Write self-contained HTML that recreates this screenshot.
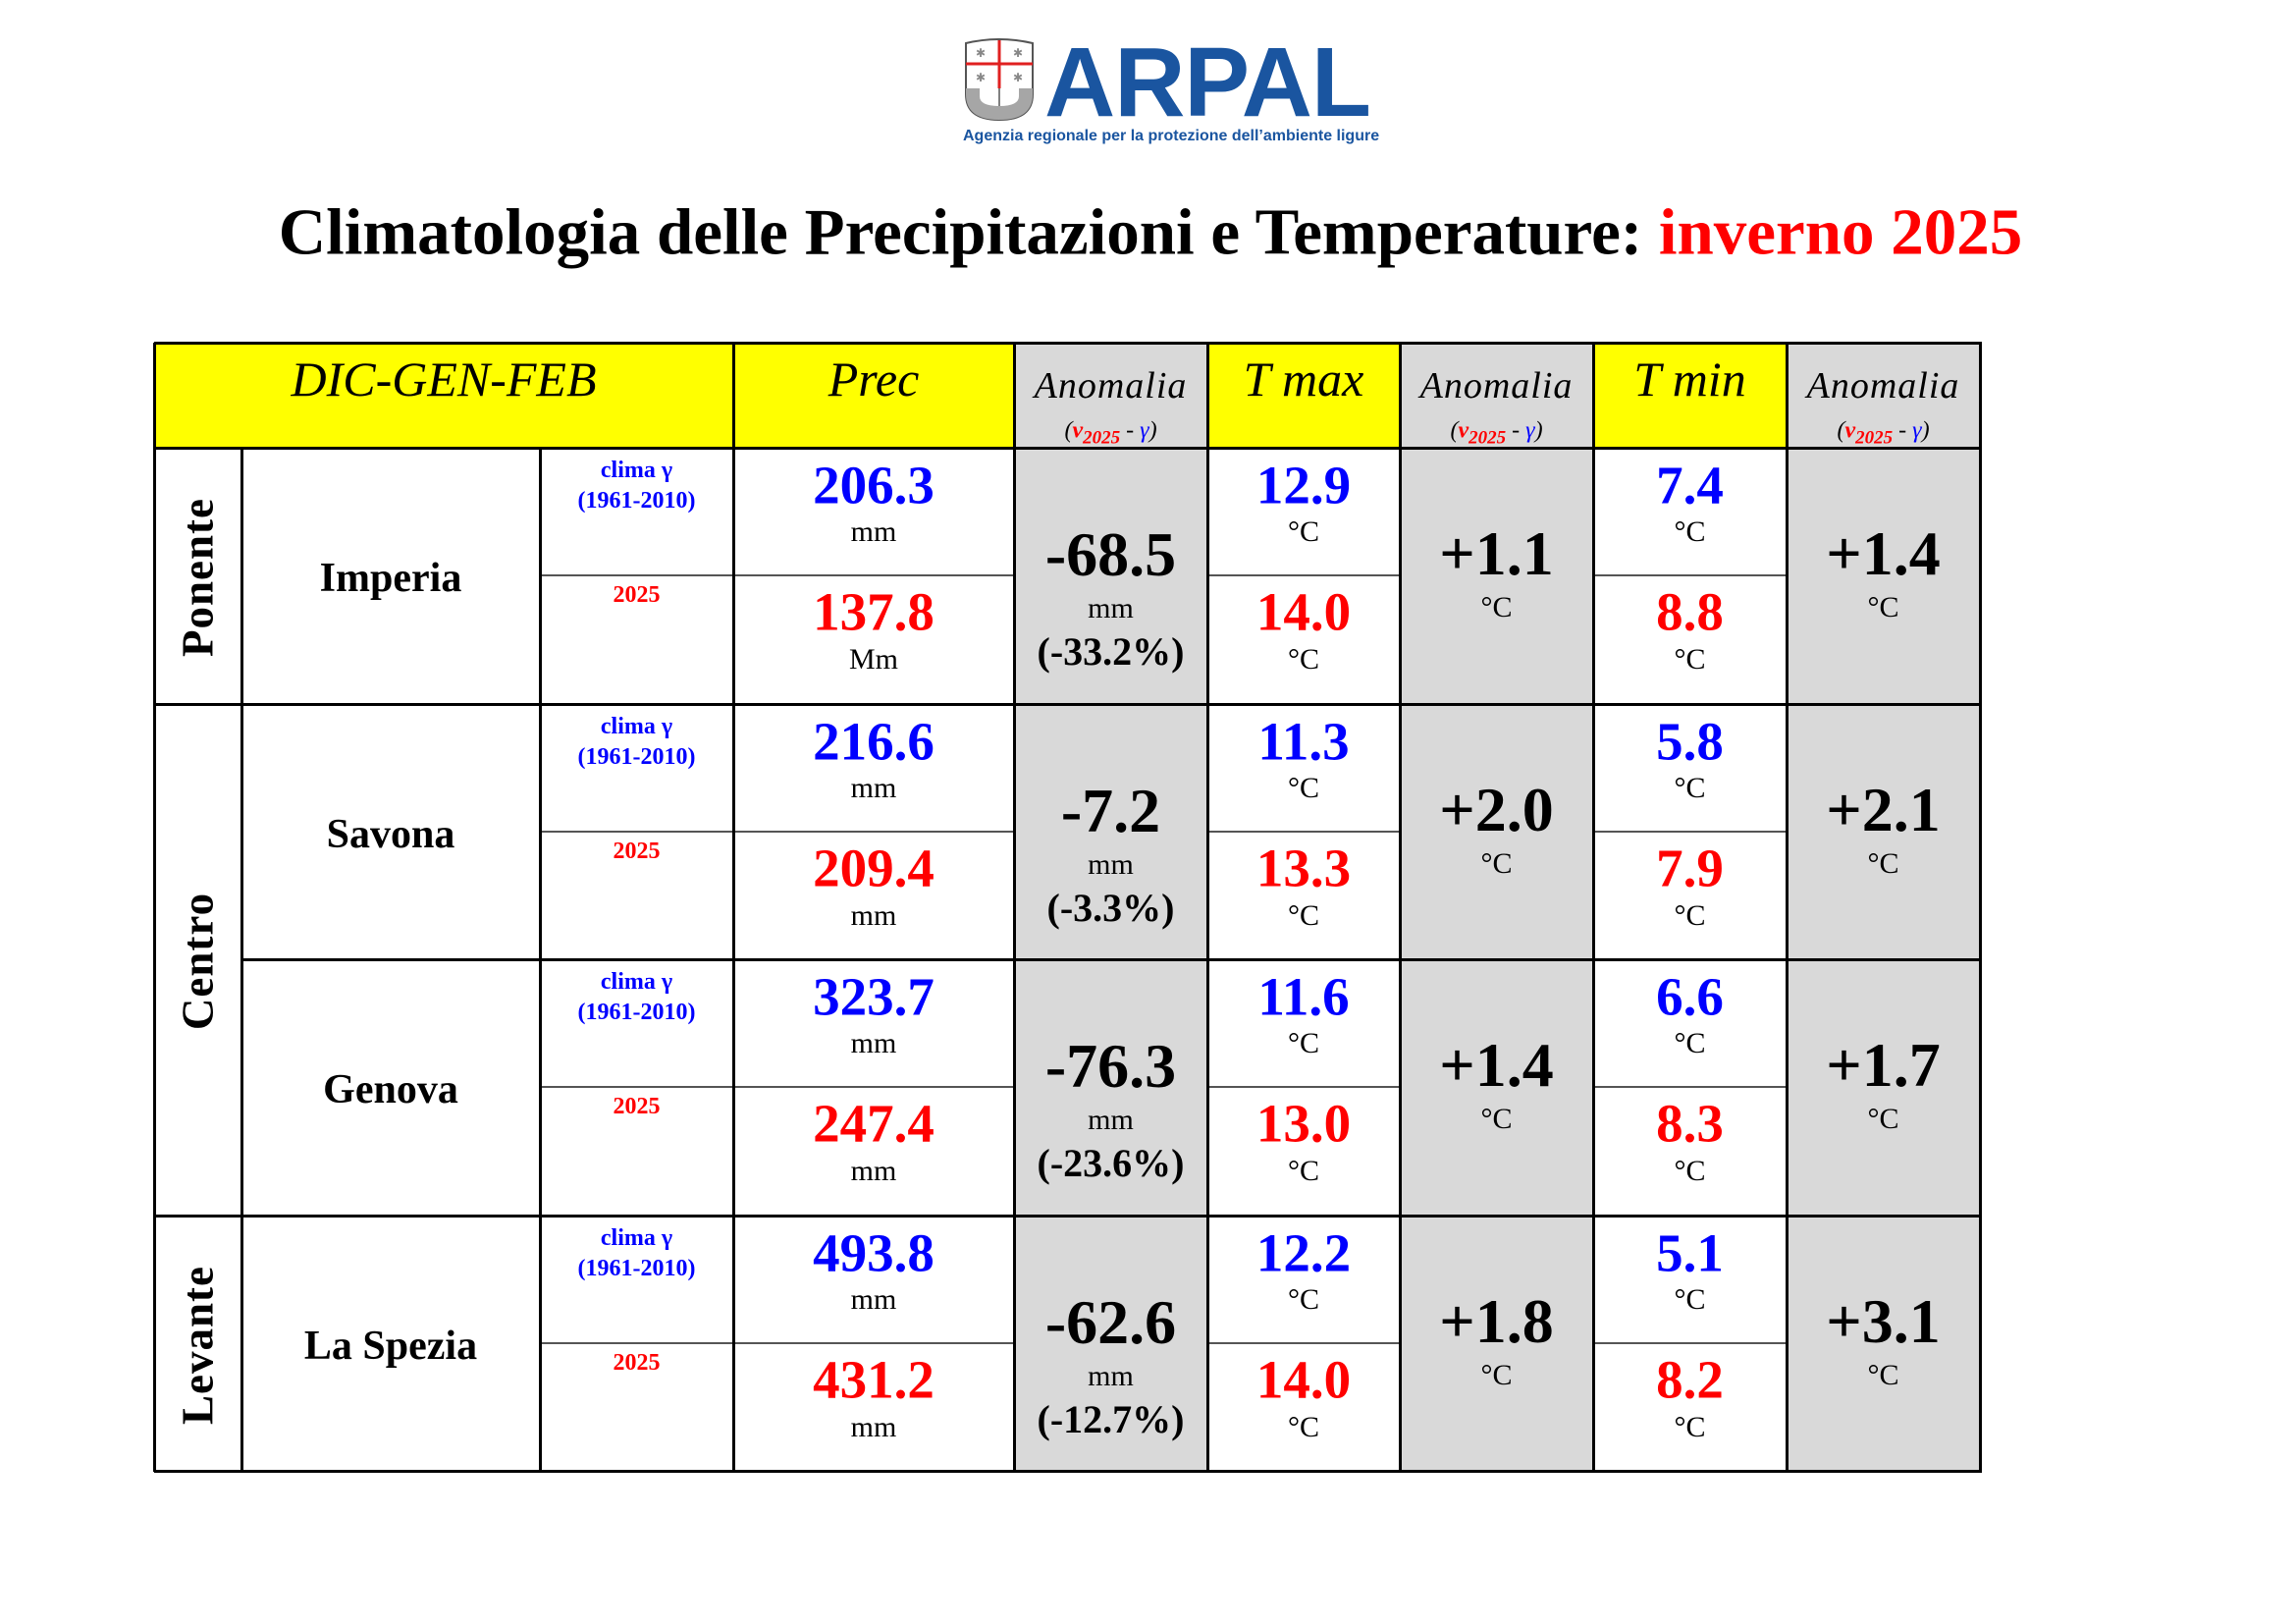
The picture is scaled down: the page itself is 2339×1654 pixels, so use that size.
<!DOCTYPE html>
<html><head><meta charset="utf-8">
<style>
body{margin:0;width:2339px;height:1654px;background:#fff;position:relative;overflow:hidden;font-family:"Liberation Serif",serif;}
.a{position:absolute;}
.t{position:absolute;transform:translate(-50%,-50%);white-space:nowrap;line-height:1;}
.b{font-weight:bold;}
</style></head><body>
<div id="logo">
<svg class="a" style="left:980px;top:38px" width="76" height="88" viewBox="0 0 76 88">
<path d="M4 6 Q38 -2 72 6 L72 58 Q72 84 38 84 Q4 84 4 58 Z" fill="#fff" stroke="#555" stroke-width="2"/>
<path d="M4 52 L72 52 L72 58 Q72 84 38 84 Q4 84 4 58 Z" fill="#a6a6a6"/>
<path d="M18 52 L18 60 Q18 70 38 70 Q58 70 58 60 L58 52 Z" fill="#fff"/>
<line x1="38" y1="3" x2="38" y2="52" stroke="#e02020" stroke-width="3"/>
<line x1="4" y1="27" x2="72" y2="27" stroke="#e02020" stroke-width="3"/>
<line x1="38" y1="52" x2="38" y2="70" stroke="#555" stroke-width="1.5"/>
<text x="19" y="20" font-size="12" fill="#888" text-anchor="middle">✱</text><text x="57" y="20" font-size="12" fill="#888" text-anchor="middle">✱</text>
<text x="19" y="45" font-size="12" fill="#888" text-anchor="middle">✱</text><text x="57" y="45" font-size="12" fill="#888" text-anchor="middle">✱</text>
</svg>
<div class="a b" style="left:1064px;top:34px;font-family:'Liberation Sans',sans-serif;font-size:100px;color:#1a55a0;letter-spacing:-1px;line-height:1">ARPAL</div>
<div class="a" style="left:981px;top:131px;font-family:'Liberation Sans',sans-serif;font-size:16px;color:#1a55a0;line-height:1;font-weight:bold">Agenzia regionale per la protezione dell’ambiente ligure</div>
</div>
<div class="t b" style="left:1172px;top:237px;font-size:67px">Climatologia delle Precipitazioni e Temperature: <span style="color:#f00">inverno 2025</span></div>
<div id="tbl"></div>
<script>
const stations=["Imperia","Savona","Genova","La Spezia"];
const precClima=["206.3","216.6","323.7","493.8"];
const prec2025=["137.8","209.4","247.4","431.2"];
const precUnit2=["Mm","mm","mm","mm"];
const precAnom=["-68.5","-7.2","-76.3","-62.6"];
const precPct=["(-33.2%)","(-3.3%)","(-23.6%)","(-12.7%)"];
const tmaxClima=["12.9","11.3","11.6","12.2"];
const tmax2025=["14.0","13.3","13.0","14.0"];
const tmaxAnom=["+1.1","+2.0","+1.4","+1.8"];
const tminClima=["7.4","5.8","6.6","5.1"];
const tmin2025=["8.8","7.9","8.3","8.2"];
const tminAnom=["+1.4","+2.1","+1.7","+3.1"];
const regions=["Ponente","Centro","Levante"];
const regionSpan=[[0,1],[1,3],[3,4]];

const tb=document.getElementById('tbl');
const X=[157,246,550,747,1033,1230,1426,1623,1820,2017];
const TOP=349,HB=456,RH=260.5;
function box(x,y,w,h,bg,name){const d=document.createElement('div');d.className='a';d.style.cssText=`left:${x}px;top:${y}px;width:${w}px;height:${h}px;background:${bg}`;


tb.appendChild(d);return d;}
function txt(x,y,s,css,name){const d=document.createElement('div');d.className='t';d.style.cssText=`left:${x}px;top:${y+2}px;`+css;d.innerHTML=s;


tb.appendChild(d);return d;}
const bottom=HB+RH*4;
box(X[0],TOP,X[3]-X[0],HB-TOP,'#ffff00','header-period-bg');
box(X[3],TOP,X[4]-X[3],HB-TOP,'#ffff00','header-prec-bg');
box(X[5],TOP,X[6]-X[5],HB-TOP,'#ffff00','header-tmax-bg');
box(X[7],TOP,X[8]-X[7],HB-TOP,'#ffff00','header-tmin-bg');
[4,6,8].forEach(c=>box(X[c],TOP,X[c+1]-X[c],bottom-TOP,'#d9d9d9','anomaly-column-bg'));
txt((X[0]+X[3])/2,384,'DIC-GEN-FEB','font-style:italic;font-size:50px','header-period');
txt((X[3]+X[4])/2,384,'Prec','font-style:italic;font-size:50px','header-prec');
txt((X[5]+X[6])/2,384,'T max','font-style:italic;font-size:50px','header-tmax');
txt((X[7]+X[8])/2,384,'T min','font-style:italic;font-size:50px','header-tmin');
[4,6,8].forEach(c=>{
 txt((X[c]+X[c+1])/2,391,'Anomalia','font-style:italic;font-size:38px;letter-spacing:1px','header-anomalia');
 txt((X[c]+X[c+1])/2,439,'(<b style="color:#f00">v<sub style="font-size:19px">2025</sub></b> - <span style="color:#00f">γ</span>)','font-style:italic;font-size:24px','header-anomalia-formula');
});
for(let i=0;i<stations.length;i++){
 const T=HB+RH*i,cx=k=>(X[k]+X[k+1])/2;
 txt(cx(1),T+131,stations[i],'font-weight:bold;font-size:42px','station-name');
 txt(cx(2),T+21,'clima γ','font-weight:bold;font-size:24px;color:#00f','clima-label');
 txt(cx(2),T+52,'(1961-2010)','font-weight:bold;font-size:24px;color:#00f','clima-period');
 txt(cx(2),T+148,'2025','font-weight:bold;font-size:24px;color:#f00','year-label');
 txt(cx(3),T+36,precClima[i],'font-weight:bold;font-size:55px;color:#00f','prec-clima');
 txt(cx(3),T+84,'mm','font-size:30px','prec-clima-unit');
 txt(cx(3),T+165,prec2025[i],'font-weight:bold;font-size:55px;color:#f00','prec-2025');
 txt(cx(3),T+214,precUnit2[i],'font-size:30px','prec-2025-unit');
 txt(cx(4),T+107,precAnom[i],'font-weight:bold;font-size:64px','prec-anomaly');
 txt(cx(4),T+162,'mm','font-size:30px','prec-anomaly-unit');
 txt(cx(4),T+206,precPct[i],'font-weight:bold;font-size:40px','prec-anomaly-pct');
 txt(cx(5),T+36,tmaxClima[i],'font-weight:bold;font-size:55px;color:#00f','tmax-clima');
 txt(cx(5),T+84,'°C','font-size:30px','tmax-clima-unit');
 txt(cx(5),T+165,tmax2025[i],'font-weight:bold;font-size:55px;color:#f00','tmax-2025');
 txt(cx(5),T+214,'°C','font-size:30px','tmax-2025-unit');
 txt(cx(6),T+106,tmaxAnom[i],'font-weight:bold;font-size:64px','tmax-anomaly');
 txt(cx(6),T+161,'°C','font-size:30px','tmax-anomaly-unit');
 txt(cx(7),T+36,tminClima[i],'font-weight:bold;font-size:55px;color:#00f','tmin-clima');
 txt(cx(7),T+84,'°C','font-size:30px','tmin-clima-unit');
 txt(cx(7),T+165,tmin2025[i],'font-weight:bold;font-size:55px;color:#f00','tmin-2025');
 txt(cx(7),T+214,'°C','font-size:30px','tmin-2025-unit');
 txt(cx(8),T+106,tminAnom[i],'font-weight:bold;font-size:64px','tmin-anomaly');
 txt(cx(8),T+161,'°C','font-size:30px','tmin-anomaly-unit');
 box(X[2],T+129,X[4]-X[2],2,'#555','half-row-line');
 box(X[5],T+129,X[6]-X[5],2,'#555','half-row-line');
 box(X[7],T+129,X[8]-X[7],2,'#555','half-row-line');
}
regions.forEach((r,k)=>{
 const y=HB+RH*(regionSpan[k][0]+regionSpan[k][1])/2;
 txt((X[0]+X[1])/2,y,r,'font-weight:bold;font-size:45px;transform:translate(-50%,-50%) rotate(-90deg);letter-spacing:1px','region-label');
});
X.forEach((x,k)=>{ if(k===1||k===2) box(x-1,HB,3,bottom-HB,'#000','col-line'); else box(x-1,TOP,3,bottom-TOP+1,'#000','col-line');});
box(X[0],TOP-1,X[9]-X[0]+2,3,'#000','top-line');
box(X[0],HB-1,X[9]-X[0]+2,3,'#000','header-line');
for(let i=1;i<=4;i++){ const y=HB+RH*i; if(i===2) box(X[1],y-1,X[9]-X[1]+2,3,'#000','row-line'); else box(X[0],y-1,X[9]-X[0]+2,3,'#000','row-line');}
</script>
</body></html>
